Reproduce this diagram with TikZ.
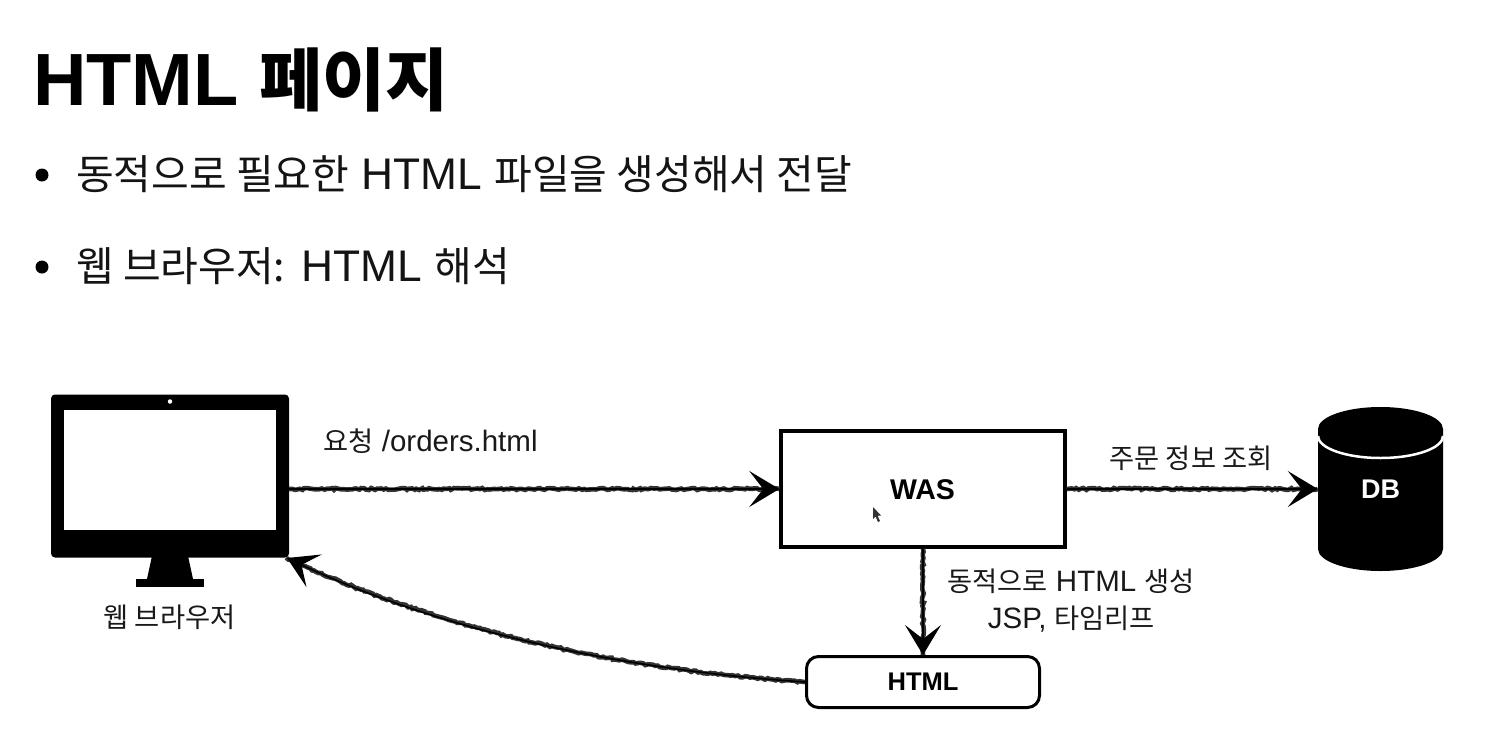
\documentclass[tikz,border=0pt]{standalone}
\usepackage{fontspec}
\setmainfont{Liberation Sans}
\newfontfamily\kr[Scale=0.925]{Noto Sans CJK KR}
\usetikzlibrary{arrows.meta,decorations.pathmorphing}
\newcommand{\K}[1]{{\kr #1}}
\tikzset{
  x=1pt,y=-1pt,
  lab/.style={inner sep=0pt,font=\fontsize{29.5}{34}\selectfont,text=black!90},
  bul/.style={inner sep=0pt,anchor=base west,font=\fontsize{44.3}{50}\selectfont,text=black!92},
  dot/.style={circle,fill=black,inner sep=0pt,minimum size=13pt},
  solidblack/.style={fill=black,draw=none},
  sketch/.style={line width=1.6pt,black,
    -{Stealth[length=30pt,width=36pt,inset=14pt]},
    preaction={draw,arrows=-,line width=4.6pt,black!80,decorate,
      decoration={random steps,segment length=2.5pt,amplitude=1pt}}},
}
\begin{document}
\begin{tikzpicture}[line join=miter]
\useasboundingbox[fill=white] (0,0) rectangle (1508,742);
% heading and bullets
\node[inner sep=0pt,anchor=base west,font=\bfseries\fontsize{74}{80}\selectfont] (title) at (33,105) {HTML \K{\bfseries 페이지}};
\node[dot] (b1) at (42,175) {};
\node[bul] (t1) at (76,189) {\K{동적으로 필요한} HTML \K{파일을 생성해서 전달}};
\node[dot] (b2) at (42,267) {};
\node[bul] (t2) at (76,281) {\K{웹 브라우저:} HTML \K{해석}};
% monitor
\path[solidblack] (147,579) -- (152,556) -- (188,556) -- (193,579) -- cycle;
\node[solidblack,rectangle,minimum width=68pt,minimum height=8pt,inner sep=0pt] (mbase) at (170,583) {};
\node[solidblack,rectangle,rounded corners=4pt,minimum width=238pt,minimum height=163pt,inner sep=0pt] (monitor) at (170,476) {};
\node[fill=white,rectangle,minimum width=212pt,minimum height=120pt,inner sep=0pt] (screen) at (170,470) {};
\node[fill=white,circle,minimum size=4.5pt,inner sep=0pt] (cam) at (170,401.5) {};
\node[lab] (mlabel) at (169.5,617.5) {\K{웹 브라우저}};
% WAS
\node[draw=black,line width=3.5pt,rectangle,minimum width=284pt,minimum height=116pt,inner sep=0pt] (was) at (923,489) {};
\node[inner sep=0pt,font=\bfseries\fontsize{28.5}{32}\selectfont,text=black] (waslabel) at (922.5,490) {WAS};
\path[fill=black!80] (873,507) -- (873,519) -- (875.6,516.6) -- (878,522) -- (880,521) -- (877.6,515.8) -- (881,515.5) -- cycle;
% HTML box
\node[draw=black,line width=3pt,rectangle,rounded corners=12pt,minimum width=233pt,minimum height=51pt,inner sep=0pt,font=\bfseries\fontsize{25.5}{30}\selectfont] (html) at (923,682) {HTML};
% DB
\path[solidblack] (1318,429) arc[start angle=180,end angle=0,x radius=62.5pt,y radius=22pt] -- (1443,549) arc[start angle=0,end angle=-180,x radius=62.5pt,y radius=22pt] -- cycle;
\draw[white,line width=2.5pt] (1318,436) arc[start angle=180,end angle=360,x radius=62.5pt,y radius=22pt];
\node[inner sep=0pt,minimum width=125pt,minimum height=140pt,text=white,font=\bfseries\fontsize{27}{32}\selectfont] (db) at (1380.5,489) {DB};
% connectors
\coordinate (mright) at (monitor.east |- was.west);
\coordinate (mcorner) at (287,558);
\draw[sketch] (mright) -- (was.west);
\draw[sketch] (was.east) -- (db.west);
\draw[sketch] (was.south) -- (html.north);
\draw[sketch] (html.west) .. controls (620,670) and (440,630) .. (mcorner);
% labels
\node[lab] (l1) at (430.5,441) {\K{요청} /orders.html};
\node[lab] (l2) at (1191,458.5) {\K{주문 정보 조회}};
\node[lab] (l3) at (1071,581) {\K{동적으로} HTML \K{생성}};
\node[lab] (l4) at (1071.5,619) {JSP, \K{타임리프}};
\end{tikzpicture}
\end{document}
